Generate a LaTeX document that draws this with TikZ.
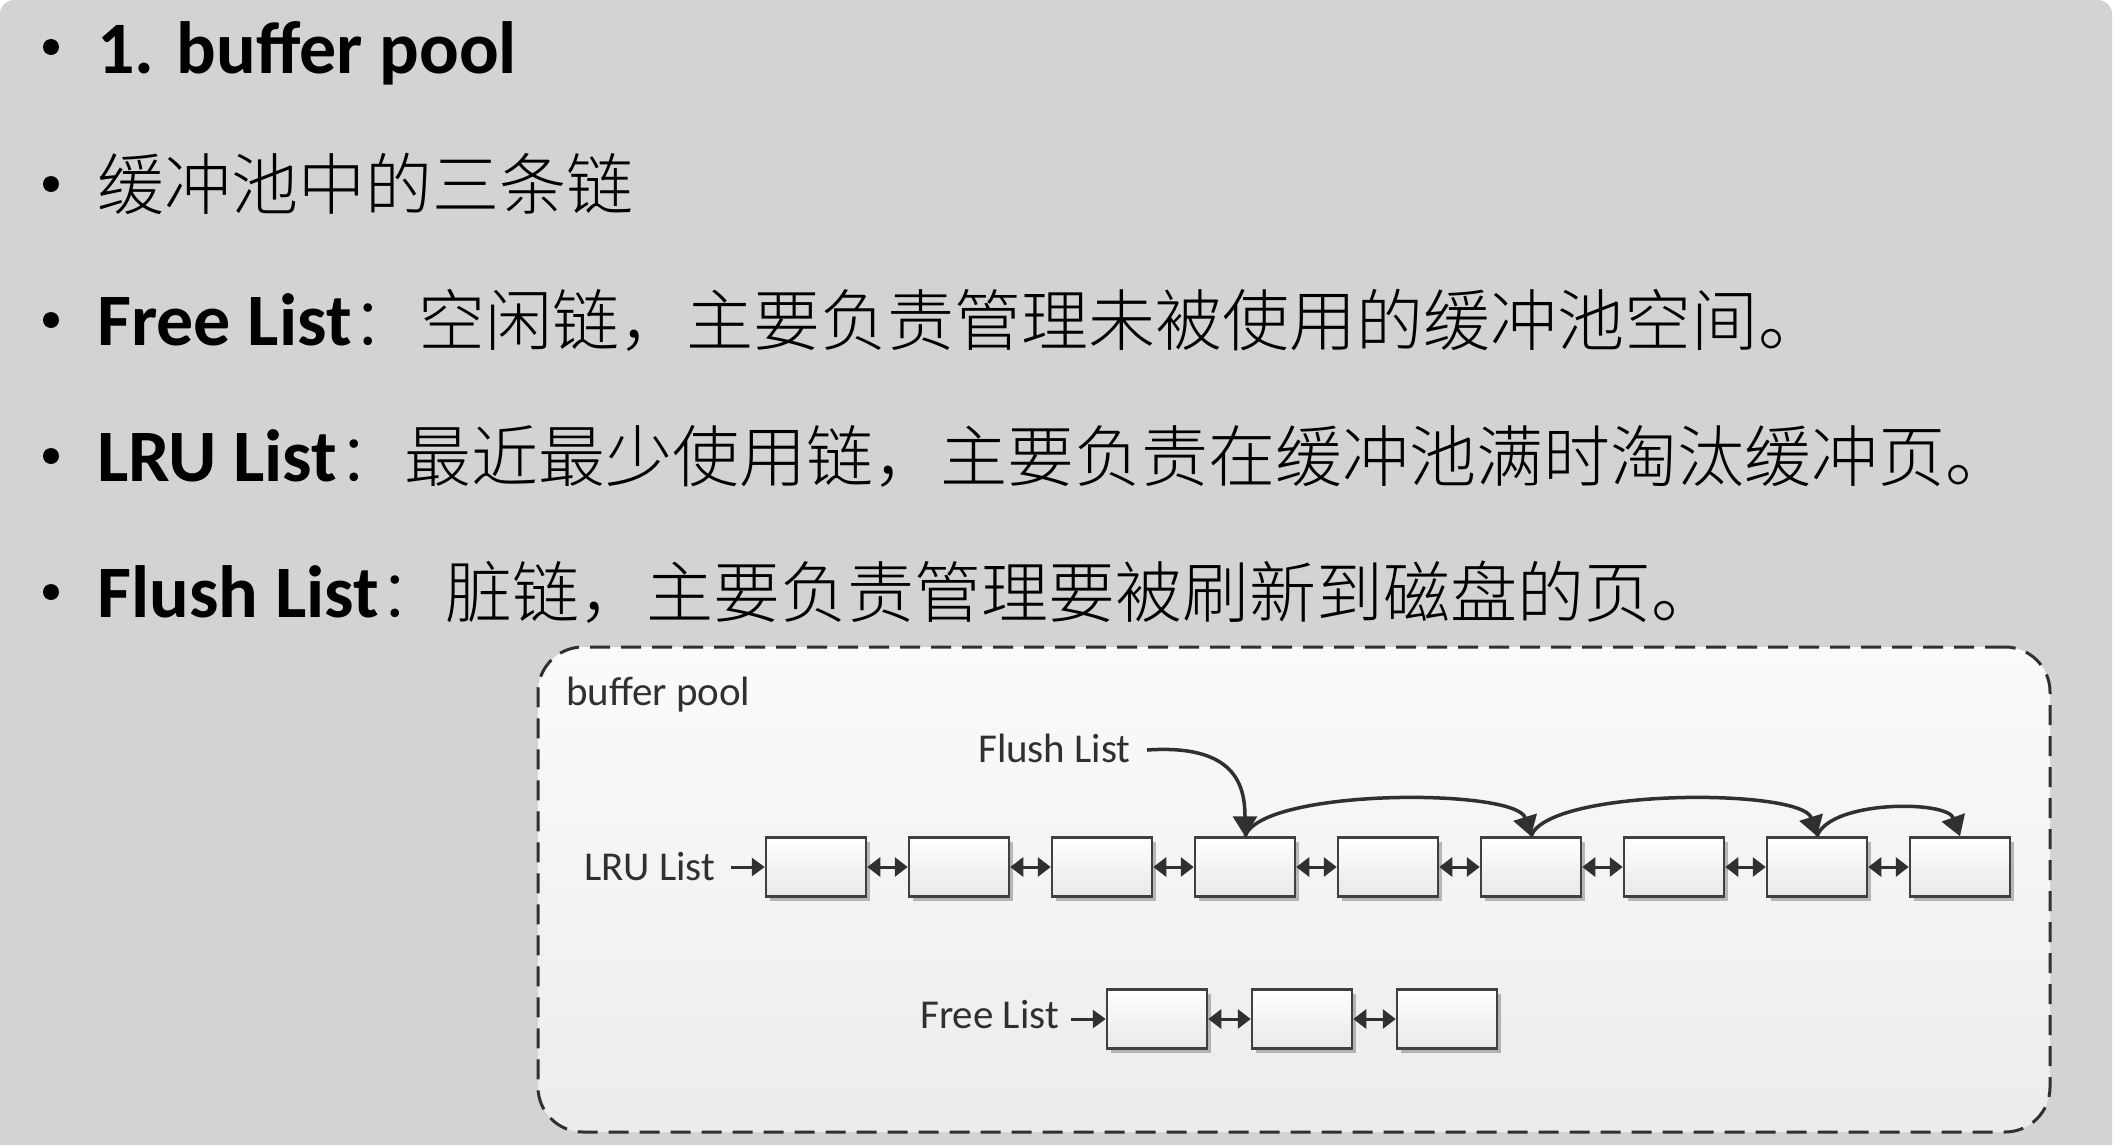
\documentclass[tikz,border=0pt]{standalone}
\usepackage{fontspec}
\setmainfont{Carlito}
\newfontfamily\cjk{Noto Sans CJK SC Light}
\usetikzlibrary{arrows.meta,shadows}
\definecolor{slidebg}{RGB}{211,211,211}
\definecolor{ink}{RGB}{48,48,48}
\definecolor{boxline}{RGB}{64,64,64}
\definecolor{pooltop}{RGB}{251,251,251}
\definecolor{poolbot}{RGB}{236,236,236}
\definecolor{cellbot}{RGB}{232,232,232}
\newcommand\latf{\fontsize{74}{74}\selectfont\bfseries}
\newcommand\cjkf{\fontsize{67}{67}\selectfont\cjk}
\begin{document}
\begin{tikzpicture}[x=1pt,y=-1pt,
  slidetxt/.style={anchor=base west, inner sep=0pt, text=black},
  dot/.style={circle, fill=black, inner sep=0pt, minimum size=16pt},
  lbl/.style={anchor=base west, inner sep=0pt, text=ink, font=\fontsize{41}{41}\selectfont},
  cell/.style={draw=boxline, line width=2.5pt, minimum width=100pt, minimum height=59pt,
    top color=white, bottom color=cellbot, inner sep=0pt,
    drop shadow={shadow xshift=4pt, shadow yshift=-4pt, opacity=0.25, fill=black}},
  link/.style={ink, line width=3pt, {Triangle[length=13pt,width=19pt]}-{Triangle[length=13pt,width=19pt]}},
  feed/.style={ink, line width=3pt, -{Triangle[length=13pt,width=18pt]}},
  flush/.style={ink, line width=3.5pt, -{Triangle[length=20pt,width=24pt]}},
  pool/.style={draw=ink, line width=3pt, dash pattern=on 20pt off 11pt, rounded corners=45pt,
    top color=pooltop, bottom color=poolbot, inner sep=0pt, minimum width=1512pt, minimum height=485pt}
]
\useasboundingbox (0,0) rectangle (2114,1144);
\fill[white] (0,0) rectangle (2114,1144);
\fill[slidebg, rounded corners=14pt] (0,0) rectangle (2112,1190);

% bullet text
\node[dot] (d1) at (51,47) {};
\node[slidetxt] (t1) at (97,73) {\latf 1. buffer pool};
\node[dot] (d2) at (51,184) {};
\node[slidetxt] (t2) at (97,209) {\cjkf 缓冲池中的三条链};
\node[dot] (d3) at (51,320) {};
\node[slidetxt] (t3) at (97,345) {{\latf Free List}{\cjkf ：空闲链，主要负责管理未被使用的缓冲池空间。}};
\node[dot] (d4) at (51,456) {};
\node[slidetxt] (t4) at (97,481) {{\latf LRU List}{\cjkf ：最近最少使用链，主要负责在缓冲池满时淘汰缓冲页。}};
\node[dot] (d5) at (51,592) {};
\node[slidetxt] (t5) at (97,617) {{\latf Flush List}{\cjkf ：脏链，主要负责管理要被刷新到磁盘的页。}};

% buffer pool container
\node[pool] (pool) at (1294,889.5) {};
\node[lbl] (bp) at (566,705) {buffer pool};
\node[lbl] (fl) at (978,762) {Flush List};
\node[lbl] (ll) at (584,880) {LRU List};
\node[lbl] (frl) at (920,1028) {Free List};

% LRU list cells
\foreach \i in {1,...,9}
  \node[cell] (b\i) at ({816+143*(\i-1)},867) {};
\foreach \i in {1,...,8}{
  \pgfmathtruncatemacro\nx{\i+1}
  \draw[link] (b\i.east) -- (b\nx.west);
}
\coordinate (lrus) at (731,867);
\draw[feed] (lrus) -- (b1.west);

% Free list cells
\node[cell] (f1) at (1157,1019) {};
\node[cell] (f2) at (1302,1019) {};
\node[cell] (f3) at (1447,1019) {};
\draw[link] (f1.east) -- (f2.west);
\draw[link] (f2.east) -- (f3.west);
\coordinate (frs) at (1071,1019);
\draw[feed] (frs) -- (f1.west);

% Flush list
\coordinate (fls) at (1147,750);
\draw[flush] (fls) .. controls (1235,744) and (1245,785) .. (b4.north);
\draw[flush] (b4.north) .. controls (1262,788) and (1516,788) .. (b6.north);
\draw[flush] (b6.north) .. controls (1548,788) and (1802,788) .. (b8.north);
\draw[flush] (b8.north) .. controls (1830,800) and (1947,800) .. (b9.north);
\end{tikzpicture}
\end{document}
